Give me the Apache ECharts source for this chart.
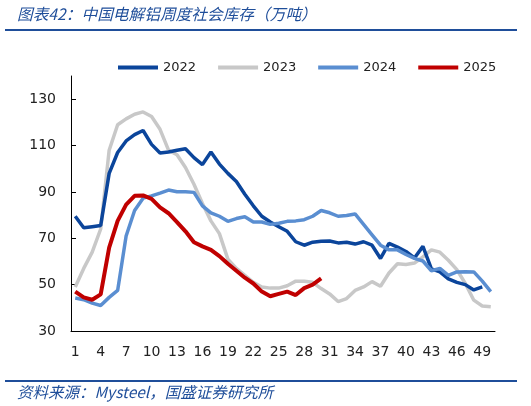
<!DOCTYPE html>
<html><head><meta charset="utf-8">
<script src="https://cdn.jsdelivr.net/npm/echarts@6/dist/echarts.min.js"></script>
<style>html,body{margin:0;padding:0;background:#fff}#c{width:531px;height:406px}</style>
</head><body><div id="c"></div>
<script>
var weeks = ['1','2','3','4','5','6','7','8','9','10','11','12','13','14','15','16','17','18','19','20','21','22','23','24','25','26','27','28','29','30','31','32','33','34','35','36','37','38','39','40','41','42','43','44','45','46','47','48','49','50'];
var yTicks = [30, 50, 70, 90, 110, 130];
var s2022 = [79.5,74.5,75,75.5,98,107,112,114.7,116.5,110.5,106.8,107.2,108,108.6,104.8,101.8,107.2,102,98,94.5,89,84,79.5,77,75,73,68.5,67,68.3,68.7,68.8,68,68.3,67.5,68.5,67,61.3,67.8,66.2,64.3,61.5,66.5,56.8,55.5,52.5,51,50,47.7,49,null];
var s2023 = [49,57,64,74,108,119,121.5,123.5,124.5,122.5,117,108,106,100.5,93.3,85,77.5,72,61,57,54,51,49,48.5,48.5,49.5,51.5,51.5,51,48.3,46,42.7,44,47.5,49,51.3,49.3,55,59,58.7,59.3,62,65,64,60.5,56.5,50.5,43.3,40.8,40.5];
var s2024 = [44.2,43.5,42,41,44.5,47.5,71,82,87.3,88.3,89.5,90.8,90.1,90.1,89.8,84,81,79.5,77.3,78.5,79.3,77,77,76,76.5,77.3,77.5,78,79.5,82,81,79.5,79.8,80.5,76,71.5,67,65,65,63,61.3,60.2,56,57,54,55.5,55.6,55.5,51.5,47];
var s2025 = [47,44.5,43.5,45.8,66,77.5,84.5,88.3,88.5,87,83.3,80.8,77,73,68.3,66.5,65,62.3,59,56,53,50.5,47,45,46,47,45.5,48.5,50,52.7];
var names = ['2022','2023','2024','2025'];

var chart = echarts.init(document.getElementById('c'));
var blue = '#1F4E9A';
function ser(name, data, color, w, z){
  return {name:name, type:'line', data:data, symbol:'none', smooth:false, z:z,
    lineStyle:{color:color, width:w}, itemStyle:{color:color}};
}
chart.setOption({
  animation:false,
  graphic:[
    {type:'text', left:17, top:6, style:{text:'图表42：中国电解铝周度社会库存（万吨）', fill:blue, font:'italic 15.7px "Noto Sans CJK SC"'}},
    {type:'line', shape:{x1:5,y1:30,x2:517,y2:30}, style:{stroke:blue, lineWidth:2}},
    {type:'line', shape:{x1:5,y1:381,x2:517,y2:381}, style:{stroke:blue, lineWidth:2}},
    {type:'text', left:17, top:384, style:{text:'资料来源：Mysteel，国盛证券研究所', fill:blue, font:'italic 15.5px "Noto Sans CJK SC"'}}
  ],
  legend:{data:names, left:113, top:56, itemWidth:40, itemHeight:4, itemGap:22, icon:'rect',
    textStyle:{fontFamily:'DejaVu Sans', fontSize:13, color:'#222'}},
  grid:{left:71, right:36, top:76, bottom:75},
  xAxis:{type:'category', data:weeks, boundaryGap:true,
    axisLine:{lineStyle:{color:'#000', width:1}},
    axisTick:{inside:true, length:5, interval:2, lineStyle:{color:'#000'}},
    axisLabel:{interval:2, margin:14, fontFamily:'DejaVu Sans', fontSize:14, color:'#222'}},
  yAxis:{type:'value', min:30, max:140, interval:20,
    splitLine:{show:false},
    axisLine:{show:true, lineStyle:{color:'#000', width:1}},
    axisTick:{show:true, inside:true, length:5, customValues:yTicks, lineStyle:{color:'#000'}},
    axisLabel:{customValues:yTicks, margin:15, fontFamily:'DejaVu Sans', fontSize:14, color:'#222'}},
  series:[
    ser('2023', s2023, '#C8C8C8', 3.5, 2),
    ser('2022', s2022, '#0B459B', 3.5, 3),
    ser('2024', s2024, '#5A8ED1', 3.5, 4),
    ser('2025', s2025, '#C00000', 4, 5)
  ]
});
</script></body></html>
